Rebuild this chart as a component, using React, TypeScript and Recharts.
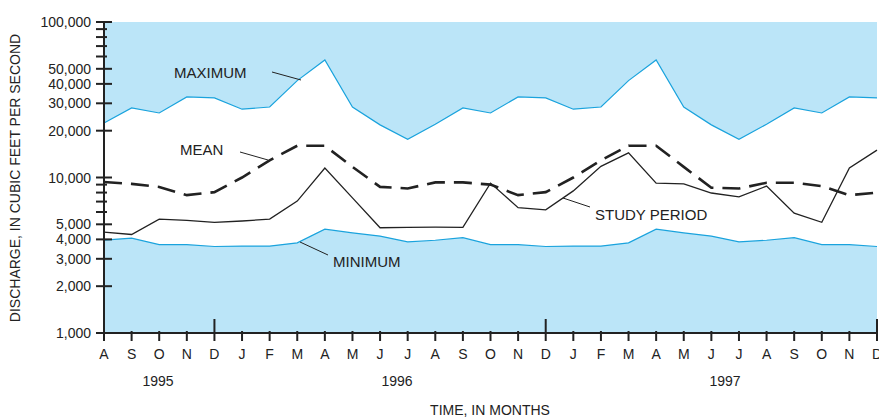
import { ComposedChart, Line, Area, XAxis, YAxis, CartesianGrid } from 'recharts';

const MONTHS = ['A', 'S', 'O', 'N', 'D', 'J', 'F', 'M', 'A', 'M', 'J', 'J', 'A', 'S', 'O', 'N', 'D', 'J', 'F', 'M', 'A', 'M', 'J', 'J', 'A', 'S', 'O', 'N', 'D'];
const MAXIMUM = [22400, 28000, 26000, 33000, 32500, 27500, 28400, 42000, 57000, 28400, 21800, 17600, 22000, 28000, 26000, 33000, 32500, 27500, 28400, 42000, 57000, 28400, 21800, 17600, 22000, 28000, 26000, 33000, 32500];
const MINIMUM = [3960, 4080, 3700, 3700, 3600, 3620, 3620, 3800, 4650, 4400, 4200, 3850, 3950, 4100, 3700, 3700, 3600, 3620, 3620, 3800, 4650, 4400, 4200, 3850, 3950, 4100, 3700, 3700, 3600];
const MEAN = [9350, 9100, 8700, 7700, 8050, 10000, 12900, 16000, 16000, 11700, 8700, 8500, 9300, 9300, 9000, 7700, 8050, 10000, 12900, 16000, 16000, 11700, 8600, 8500, 9250, 9250, 8800, 7700, 8000];
const STUDY = [4460, 4300, 5400, 5300, 5150, 5250, 5400, 7050, 11500, 7400, 4750, 4780, 4800, 4780, 9200, 6400, 6200, 8200, 11800, 14400, 9200, 9100, 7950, 7500, 8800, 5900, 5150, 11500, 15000];
const Y_TICKS = [1000, 2000, 3000, 4000, 5000, 6000, 7000, 8000, 9000, 10000, 20000, 30000, 40000, 50000, 60000, 70000, 80000, 90000, 100000];
const Y_LABELS = [1000, 2000, 3000, 4000, 5000, 10000, 20000, 30000, 40000, 50000, 100000];
const YEARS = ['1995', '1996', '1997'];

const data = MONTHS.map((m, i) => ({
  i,
  range: [MINIMUM[i], MAXIMUM[i]],
  max: MAXIMUM[i],
  min: MINIMUM[i],
  mean: MEAN[i],
  study: STUDY[i],
}));

const FONT = 'Liberation Sans, Arial, sans-serif';
const BLUE = '#1aa3dd';

const LeftTick = (props: any) => {
  const { x, y, payload } = props;
  const lab = Y_LABELS.includes(payload.value);
  return (
    <g>
      <line x1={x} x2={x + (lab ? 16 : 11)} y1={y} y2={y} stroke="#222" strokeWidth={2} />
      {lab && (
        <text x={x - 5} y={y + 5} textAnchor="end" fontSize={14} fill="#222" fontFamily={FONT}>
          {payload.value.toLocaleString('en-US')}
        </text>
      )}
    </g>
  );
};

const RightTick = (props: any) => {
  const { x, y, payload } = props;
  const lab = Y_LABELS.includes(payload.value);
  return <line x1={x} x2={x - (lab ? 16 : 11)} y1={y} y2={y} stroke="#222" strokeWidth={2} />;
};

const BottomTick = (props: any) => {
  const { x, y, payload } = props;
  const big = MONTHS[payload.value] === 'D';
  return (
    <g>
      <line x1={x} x2={x} y1={y} y2={y - (big ? 22 : 10)} stroke="#222" strokeWidth={2} />
      <text x={x} y={y + 18} textAnchor="middle" fontSize={14} fill="#222" fontFamily={FONT}>
        {MONTHS[payload.value]}
      </text>
    </g>
  );
};

const TopTick = (props: any) => {
  const { x, y, payload } = props;
  const big = MONTHS[payload.value] === 'D';
  return <line x1={x} x2={x} y1={y} y2={y + (big ? 22 : 10)} stroke="#222" strokeWidth={2} />;
};

const Annotations = () => (
  <svg width={879} height={420} style={{ position: 'absolute', left: 0, top: 0, pointerEvents: 'none' }}>
    <g fontFamily={FONT} fontSize={15} fill="#222">
      <text x={174} y={78}>MAXIMUM</text>
      <line x1={272} y1={72} x2={301} y2={80} stroke="#222" />
      <text x={180} y={155}>MEAN</text>
      <line x1={240} y1={152} x2={268} y2={160} stroke="#222" />
      <text x={595} y={220}>STUDY PERIOD</text>
      <line x1={590} y1={207} x2={563} y2={198} stroke="#222" />
      <text x={333} y={267}>MINIMUM</text>
      <line x1={328} y1={255} x2={300} y2={242} stroke="#222" />
      <text x={158} y={386} textAnchor="middle" fontSize={14}>{YEARS[0]}</text>
      <text x={397} y={386} textAnchor="middle" fontSize={14}>{YEARS[1]}</text>
      <text x={725} y={386} textAnchor="middle" fontSize={14}>{YEARS[2]}</text>
      <text x={490} y={415} textAnchor="middle" fontSize={14}>TIME, IN MONTHS</text>
      <text x={20} y={178} textAnchor="middle" fontSize={14} transform="rotate(-90 20 178)">
        DISCHARGE, IN CUBIC FEET PER SECOND
      </text>
    </g>
  </svg>
);

export default function App() {
  return (
    <div style={{ position: 'fixed', left: 0, top: 0, width: 879, height: 420, background: '#fff' }}>
      <ComposedChart width={879} height={420} data={data} margin={{ top: 22, right: 2, left: 0, bottom: 0 }}>
        <CartesianGrid horizontal={false} vertical={false} fill="#bbe5f8" fillOpacity={1} />
        <XAxis xAxisId="b" dataKey="i" type="number" domain={[0, MONTHS.length - 1]} ticks={MONTHS.map((_, i) => i)}
          tick={<BottomTick />} tickLine={false} axisLine={{ stroke: '#222', strokeWidth: 2 }} height={87} interval={0} />
        <XAxis xAxisId="t" orientation="top" dataKey="i" type="number" domain={[0, MONTHS.length - 1]} ticks={MONTHS.map((_, i) => i)}
          tick={<TopTick />} tickLine={false} axisLine={{ stroke: '#222', strokeWidth: 2 }} height={0} interval={0} />
        <YAxis yAxisId="l" scale="log" domain={[1000, 100000]} ticks={Y_TICKS} tick={<LeftTick />} tickLine={false}
          axisLine={{ stroke: '#222', strokeWidth: 2 }} width={104} interval={0} allowDataOverflow />
        <YAxis yAxisId="r" orientation="right" scale="log" domain={[1000, 100000]} ticks={Y_TICKS} tick={<RightTick />}
          tickLine={false} axisLine={{ stroke: '#222', strokeWidth: 2 }} width={0} interval={0} allowDataOverflow />
        <Area xAxisId="b" yAxisId="l" dataKey="range" fill="#ffffff" fillOpacity={1} stroke="none" isAnimationActive={false} type="linear" />
        <Line xAxisId="b" yAxisId="l" dataKey="max" stroke={BLUE} strokeWidth={1.2} dot={false} isAnimationActive={false} type="linear" />
        <Line xAxisId="b" yAxisId="l" dataKey="min" stroke={BLUE} strokeWidth={1.2} dot={false} isAnimationActive={false} type="linear" />
        <Line xAxisId="b" yAxisId="l" dataKey="mean" stroke="#222" strokeWidth={2.6} strokeDasharray="18 9" dot={false} isAnimationActive={false} type="linear" />
        <Line xAxisId="b" yAxisId="l" dataKey="study" stroke="#222" strokeWidth={1.3} dot={false} isAnimationActive={false} type="linear" />
      </ComposedChart>
      <Annotations />
    </div>
  );
}
